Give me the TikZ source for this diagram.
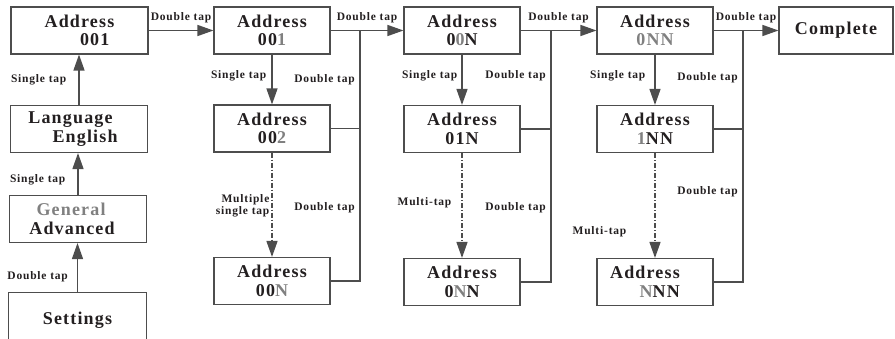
\documentclass[tikz,border=0pt]{standalone}
\usepackage{fontspec}
\setmainfont{Liberation Serif}
\newfontfamily\boxfont[LetterSpace=6.5]{Liberation Serif}
\newfontfamily\tapfont[LetterSpace=7]{Liberation Serif}
\usepackage{tikz}
\usetikzlibrary{
  arrows.meta,
  positioning,
  calc,
}
\definecolor{ink}{HTML}{231F20}
\definecolor{wire}{HTML}{4D4D4D}
\definecolor{faded}{HTML}{808080}
\newcommand{\fd}[1]{\textcolor{faded}{#1}}
\tikzset{
  >={Triangle[length=16pt,width=11pt]},
  every node/.append style={text=ink},
  state/.style={
    draw=wire,
    line width=1.1pt,
    minimum width=116pt,
    minimum height=47pt,
    inner sep=0pt,
    align=center,
    font=\boxfont\bfseries\fontsize{18}{18.5}\selectfont,
  },
  wide/.style={state, minimum width=137pt},
  tap/.style={
    font=\tapfont\bfseries\fontsize{11.5}{12.5}\selectfont,
    inner sep=1pt,
    align=right,
  },
  flow/.style={draw=wire, line width=1.3pt, ->},
  multi/.style={flow, dash pattern=on 5pt off 2pt on 1pt off 2pt},
  bus/.style={draw=wire, line width=1.3pt},
}

\begin{document}
\begin{tikzpicture}[x=1pt,y=-1pt]
  \useasboundingbox (0,0) rectangle (895,339);

  % --- menu column ---
  \node[wide, align=right] (addr) at (79.5,30.5) {Address\\001\hspace*{5pt}};
  \node[wide, align=right] (lang) at (79,129) {Language\hspace*{17pt}\\English\hspace*{12pt}};
  \node[wide] (gen) at (78,219) {\fd{General}\hspace*{14pt}\\Advanced\hspace*{12pt}};
  \node[wide, draw=none, minimum height=54pt] (set) at (77.5,320) {Settings};
  \draw[bus, line width=1.1pt] (set.south west) |- (set.north east) -- (set.south east);

  \draw[flow] (lang.north) -- (lang.north |- addr.south)
    node[tap, midway, left=11pt] (lt1) {Single tap};
  \draw[flow] (gen.north) -- (gen.north |- lang.south)
    node[tap, pos=.36, left=11pt] (lt2) {Single tap};
  \draw[flow] (set.north) -- (set.north |- gen.south)
    node[tap, pos=.32, left=8pt] (lt3) {Double tap};

  % --- address columns ---
  \node[state] (b1) at (272,30.5) {Address\\00\fd{1}};
  \node[state] (b2) at (272,128.5) {Address\\00\fd{2}};
  \node[state] (b3) at (272,281) {Address\\00\fd{N}};

  \node[state] (c1) at (462,30.5) {Address\\0\fd{0}N};
  \node[state] (c2) at (462,129) {Address\\01N};
  \node[state] (c3) at (462,282) {Address\\0\fd{N}N};

  \node[state] (d1) at (655,30.5) {Address\\\fd{0NN}};
  \node[state] (d2) at (655,129) {Address\\\fd{1}NN};
  \node[state, align=right] (d3) at (655,282) {Address\hspace*{20pt}\\\fd{N}NN\hspace*{20pt}};

  \node[state, minimum width=114pt] (done) at (836,30.5) {Complete};

  % top row
  \foreach \a/\b in {addr/b1, b1/c1, c1/d1, d1/done} {
    \draw[flow] (\a) -- (\b) node[tap, midway, above=6pt] (dt\b) {Double tap};
  }

  % steps down each column
  \foreach \c/\sp/\sl/\mp/\ml/\mtext in {
    b/.42/4pt/.51/1pt/{Multiple\\single tap},
    c/.42/3pt/.47/9pt/{Multi-tap},
    d/.43/8pt/.75/27pt/{Multi-tap}} {
    \draw[flow] (\c1) -- (\c2) node[tap, pos=\sp, left=\sl] (st\c) {Single tap};
    \draw[multi] (\c2) -- (\c3) node[tap, pos=\mp, left=\ml] (mt\c) {\mtext};
  }

  % double tap buses
  \foreach \c/\x/\ya/\yb in {b/360/80/208, c/551/76/208, d/743/78/192} {
    \coordinate (\c j) at (\x,30.5);
    \draw[bus] (\c3.east) -| (\c j);
    \draw[bus] (\c2.east) -- (\c2.east -| \c j);
    \node[tap, anchor=east] (du\c) at (\x-4,\ya) {Double tap};
    \node[tap, anchor=east] (dl\c) at (\x-4,\yb) {Double tap};
  }
\end{tikzpicture}
\end{document}
